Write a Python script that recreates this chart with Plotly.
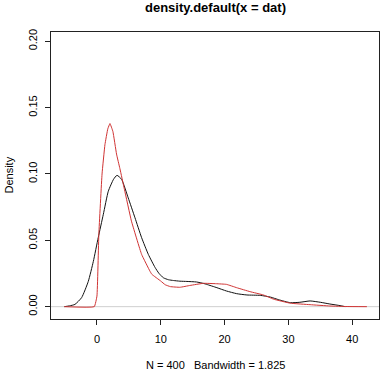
import plotly.graph_objects as go

# Black curve: density of dat (default kernel)
black_x = [-5.1, -4.3, -3.45, -2.4, -1.36, -0.57, 0.2, 1.0, 1.78, 2.6, 3.14, 3.86, 4.9, 5.96,
           7.0, 8.05, 9.1, 9.7, 10.4, 11.2, 12.0, 13.0, 14.1, 15.6, 16.7, 17.2, 18.8, 20.3,
           21.9, 23.5, 25.6, 27.2, 28.5, 30.3, 31.8, 33.4, 35.0, 36.5, 38.1, 38.9]
black_y = [0.0, 0.0006, 0.0017, 0.0068, 0.019, 0.034, 0.052, 0.0696, 0.087, 0.096, 0.099, 0.096,
           0.082, 0.067, 0.052, 0.0394, 0.0296, 0.0252, 0.0218, 0.0203, 0.0197, 0.0192, 0.019,
           0.0186, 0.0175, 0.0168, 0.0143, 0.0118, 0.0098, 0.0088, 0.0085, 0.0072, 0.0052,
           0.003, 0.0033, 0.0043, 0.0033, 0.002, 0.0008, 0.0]

# Red curve: second density estimate
red_x = [-5.1, -0.42, 0.0, 0.3, 0.8, 1.25, 1.7, 2.04, 2.5, 3.07, 3.6, 4.3, 5.4, 7.0, 8.3, 8.6,
         10.0, 10.7, 11.5, 13.0, 14.6, 16.7, 18.7, 20.3, 21.9, 24.0, 26.1, 27.7, 30.3, 33.4,
         36.5, 39.2, 42.3]
red_y = [0.0, 0.0, 0.008, 0.055, 0.1, 0.122, 0.134, 0.138, 0.132, 0.115, 0.104, 0.0885, 0.0646,
         0.0394, 0.0268, 0.0244, 0.0193, 0.0165, 0.0151, 0.0146, 0.016, 0.0176, 0.0173, 0.0168,
         0.0143, 0.0113, 0.0088, 0.0056, 0.0026, 0.0015, 0.0005, 0.0001, 0.0]

x_ticks = [0, 10, 20, 30, 40]
y_ticks = [0.00, 0.05, 0.10, 0.15, 0.20]
y_tick_labels = ["0.00", "0.05", "0.10", "0.15", "0.20"]

title_text = "density.default(x = dat)"
xlab_text = "N = 400\u00a0\u00a0\u00a0Bandwidth = 1.825"
ylab_text = "Density"

FONT = "Liberation Sans, Arial, sans-serif"

fig = go.Figure()
fig.add_trace(go.Scatter(x=black_x, y=black_y, mode="lines", line=dict(color="#111111", width=1, shape="spline", smoothing=0.5), showlegend=False, hoverinfo="skip"))
fig.add_trace(go.Scatter(x=red_x, y=red_y, mode="lines", line=dict(color="#d03434", width=1, shape="spline", smoothing=0.3), showlegend=False, hoverinfo="skip"))

fig.add_shape(type="line", xref="paper", yref="y", x0=0, x1=1, y0=0, y1=0,
              line=dict(color="#cfcfcf", width=1), layer="below")

fig.update_layout(
    width=387, height=373,
    margin=dict(l=51, r=8, t=32, b=54),
    paper_bgcolor="white", plot_bgcolor="white",
    font=dict(family=FONT, size=11, color="black"),
    xaxis=dict(range=[-7.2, 44.2], tickvals=x_ticks, ticktext=[str(v) for v in x_ticks],
               showgrid=False, zeroline=False, showline=True, mirror=True,
               linecolor="#222222", linewidth=1, ticks="outside", ticklen=5, tickcolor="#222222",
               ticklabelstandoff=5, tickfont=dict(size=11)),
    yaxis=dict(range=[-0.0093, 0.207], tickvals=y_ticks, ticktext=y_tick_labels,
               showgrid=False, zeroline=False, showline=True, mirror=True,
               linecolor="#222222", linewidth=1, ticks="outside", ticklen=5, tickcolor="#222222",
               tickangle=-90, ticklabelstandoff=4, tickfont=dict(size=11)),
    annotations=[
        dict(text="<b>" + title_text + "</b>", xref="paper", yref="paper", x=0.5, y=1,
             yanchor="middle", yshift=25, showarrow=False, font=dict(size=13)),
        dict(text=xlab_text, xref="paper", yref="paper", x=0.5, y=0,
             yanchor="middle", yshift=-46, showarrow=False, font=dict(size=11)),
        dict(text=ylab_text, xref="paper", yref="paper", x=0, y=0.5, xanchor="center",
             xshift=-43, yshift=0, textangle=-90, showarrow=False, font=dict(size=11)),
    ],
)

fig.write_html("out.html", config={"displayModeBar": False, "staticPlot": True},
               post_script="document.body.style.margin='0';document.body.style.overflow='hidden';")
